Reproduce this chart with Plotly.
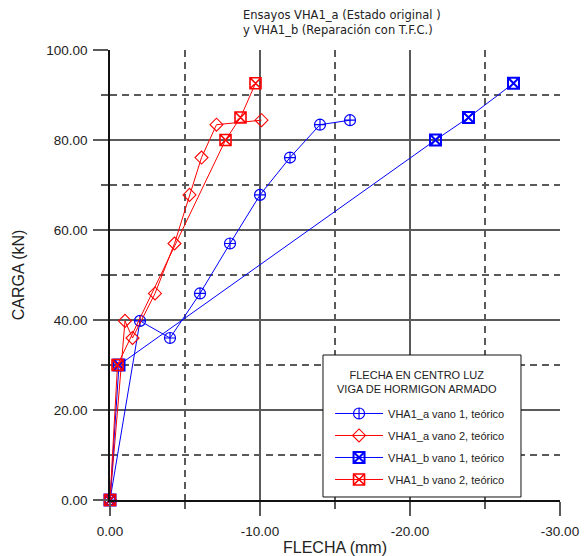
import plotly.graph_objects as go

# Deflection (mm, negative = downward) vs load (kN) at mid-span
load_a = [0, 39.8, 36.0, 45.9, 57.0, 67.8, 76.1, 83.4, 84.4]
defl_a_span1 = [0, -2.0, -4.0, -6.0, -8.0, -10.0, -12.0, -14.0, -16.0]
defl_a_span2 = [0, -1.0, -1.5, -3.0, -4.3, -5.3, -6.1, -7.1, -10.1]

load_b = [0, 30.0, 80.0, 85.0, 92.6]
defl_b_span1 = [0, -0.6, -21.7, -23.9, -26.9]
defl_b_span2 = [0, -0.5, -7.7, -8.7, -9.7]

series_names = [
    "VHA1_a vano 1, teórico",
    "VHA1_a vano 2, teórico",
    "VHA1_b vano 1, teórico",
    "VHA1_b vano 2, teórico",
]

x_major = [0, -10, -20, -30]
x_major_text = ["0.00", "-10.00", "-20.00", "-30.00"]
x_minor = [-5, -15, -25]
y_major = [0, 20, 40, 60, 80, 100]
y_major_text = ["0.00", "20.00", "40.00", "60.00", "80.00", "100.00"]
y_minor = [10, 30, 50, 70, 90]

FONT = "Liberation Sans, Arial, sans-serif"
TITLE_FONT = "DejaVu Sans, Verdana, sans-serif"
BLUE = "#0000ff"
RED = "#ff0000"
GRID = "#5a5a5a"

fig = go.Figure()

fig.add_trace(go.Scatter(
    x=defl_a_span1, y=load_a, name=series_names[0], mode="lines+markers",
    legendgroup="a1",
    line=dict(color=BLUE, width=1),
    marker=dict(symbol="circle-cross-open", size=11, color=BLUE, line=dict(width=1.2, color=BLUE)),
    cliponaxis=False,
))
fig.add_trace(go.Scatter(
    x=defl_a_span2, y=load_a, name=series_names[1], mode="lines+markers",
    legendgroup="a2",
    line=dict(color=RED, width=1),
    marker=dict(symbol="diamond-open", size=10, color=RED, line=dict(width=1.1, color=RED)),
    cliponaxis=False,
))
fig.add_trace(go.Scatter(
    x=defl_b_span1, y=load_b, name=series_names[2], mode="lines+markers",
    legendgroup="b1",
    line=dict(color=BLUE, width=1),
    marker=dict(symbol="square-x-open", size=11, color=BLUE, line=dict(width=2, color=BLUE)),
    cliponaxis=False,
))
fig.add_trace(go.Scatter(
    x=defl_b_span2, y=load_b, name=series_names[3], mode="lines+markers",
    legendgroup="b2",
    line=dict(color=RED, width=1),
    marker=dict(symbol="square-x-open", size=11, color=RED, line=dict(width=1.6, color="rgba(255,0,0,0.75)")),
    cliponaxis=False,
))

axis_common = dict(
    showgrid=True, gridcolor=GRID, gridwidth=1.5,
    ticks="outside", tickcolor=GRID, tickwidth=1.5,
    zeroline=False, showline=True, linecolor="#111", linewidth=1.5,
    tickfont=dict(family=FONT, size=13.5, color="#222"),
    tickmode="array", automargin=False,
)

fig.update_xaxes(
    **axis_common,
    range=[0, -30], tickvals=x_major, ticktext=x_major_text, ticklen=14,
    ticklabelstandoff=4,
    minor=dict(tickmode="array", tickvals=x_minor, ticks="outside", ticklen=7,
               tickcolor=GRID, tickwidth=1.5, showgrid=True, gridcolor=GRID,
               gridwidth=1.5, griddash="7px,5px"),
    title=dict(text="FLECHA (mm)", font=dict(family=FONT, size=16, color="#222"), standoff=6),
)
fig.update_yaxes(
    **axis_common,
    range=[0, 100], tickvals=y_major, ticktext=y_major_text, ticklen=15,
    ticklabelstandoff=3,
    minor=dict(tickmode="array", tickvals=y_minor, ticks="outside", ticklen=7,
               tickcolor=GRID, tickwidth=1.5, showgrid=True, gridcolor=GRID,
               gridwidth=1.5, griddash="7px,5px"),
    title=dict(text="CARGA (kN)", font=dict(family=FONT, size=16, color="#222"), standoff=18),
)

# Chart heading
fig.add_annotation(
    xref="paper", yref="paper", x=0.291, y=1.097, xanchor="left", yanchor="top",
    text="Ensayos VHA1_a (Estado original )<br>y VHA1_b (Reparación con T.F.C.)",
    showarrow=False, align="left",
    font=dict(family=TITLE_FONT, size=11.5, color="#222"),
)

# Legend frame with a centred two-line heading; entries come from the legend below
fig.add_shape(
    type="rect", xref="paper", yref="paper",
    x0=0.4733, x1=0.9133, y0=0.0067, y1=0.3222,
    fillcolor="white", line=dict(color="#111", width=1), layer="above",
)
fig.add_annotation(
    xref="paper", yref="paper", x=0.6822, y=0.2633, xanchor="center", yanchor="middle",
    text="FLECHA EN CENTRO LUZ<br>VIGA DE HORMIGON ARMADO",
    showarrow=False, align="center",
    font=dict(family=FONT, size=11, color="#222"),
)

fig.update_layout(
    width=585, height=556,
    margin=dict(l=110, r=25, t=50, b=56),
    paper_bgcolor="white", plot_bgcolor="white",
    showlegend=True,
    legend=dict(
        x=0.489, y=0.2245, xanchor="left", yanchor="top",
        bgcolor="rgba(0,0,0,0)", borderwidth=0,
        font=dict(family=FONT, size=11, color="#222"),
        itemwidth=48, tracegroupgap=3,
    ),
)

fig.write_html("out.html")
